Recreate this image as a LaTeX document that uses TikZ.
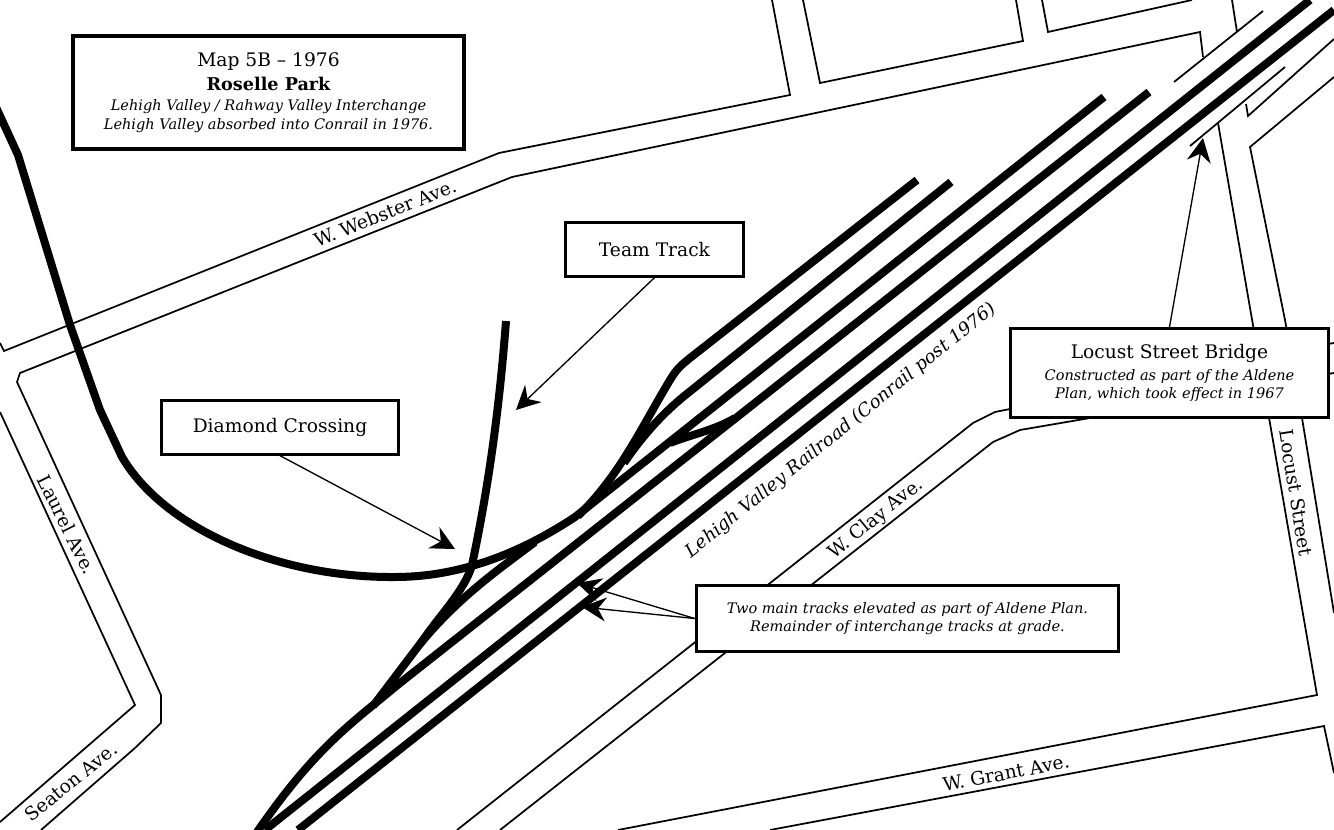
\documentclass[tikz,border=0pt]{standalone}
\usepackage{fontspec}
\setmainfont{DejaVu Serif}
\usetikzlibrary{arrows.meta}
\newcommand{\sm}{\fontsize{10.9}{13}\selectfont\itshape}
\begin{document}
\begin{tikzpicture}[x=0.75pt,y=-0.75pt]
\tikzset{
    street/.style={line width = 1.3pt, color=black, line join=miter},
    track/.style={line width = 6pt, color=black, line join=round},
    note/.style={draw, fill=white, line width = 2.2pt, align=center, inner sep=0pt, font=\fontsize{14}{17}\selectfont},
    place/.style={font=\fontsize{14}{17}\selectfont},
    pointer/.style={line width = 1pt, -{Stealth[length=18pt,width=18pt,inset=6pt]}}}
\useasboundingbox (0,0) rectangle (1334,830);

% streets
\draw[street] (0,343)--(4,351)--(499,153)--(790,95)--(772,0);
\draw[street] (803,0)--(820,83)--(1023,41)--(1016,0);
\draw[street] (1042,0)--(1048,32)--(1192,0);
\draw[street] (1232,0)--(1237,32);
\draw[street] (161,695)--(161,723)--(135,748)--(41,830);
\draw[street] (161,695)--(17,382)--(20,373)--(512,177)--(1200,32)--(1203,57);
\draw[street] (0,412)--(135,705)--(0,822);
\draw[street] (1174,82)--(1263,11);
\draw[street] (1190,146)--(1285,67);
\draw[street] (1246,104)--(1248,116)--(1334,39);
\draw[street] (1334,77)--(1250,147)--(1285,320)--(1302,418)--(1334,613);
\draw[street] (1218,123)--(1317,695)--(618,830);
\draw[street] (770,830)--(1324,726)--(1334,773);
\draw[street] (457,830)--(973,423)--(995,412)--(1010,409);
\draw[street] (500,830)--(993,442)--(1020,430)--(1090,418);
\draw[street] (1328,344)--(1334,343);
\draw[street] (1328,374)--(1334,373);

% tracks
\draw[track] (298,830)--(1334,10);
\draw[track] (265,830)--(1310,0);
\draw[track] (257,832)..controls (300,770) and (330,740)..(372,706)--(400,683)--(1149,92);
\draw[track] (373,706)--(423,640)..controls (440,615) and (465,590)..(472,565)..controls (490,480) and (500,400)..(506,321);
\draw[track] (-5,105)--(18,155)--(70,325)--(100,410)--(122,457)..controls (165,530) and (280,578)..(395,577)..controls (450,577) and (510,560)..(575,517)--(1104,97);
\draw[track] (420,644)..controls (460,595) and (505,565)..(535,542);
\draw[track] (578,516)..controls (620,475) and (640,430)..(670,380)..controls (676,370) and (680,366)..(690,358)--(917,180);
\draw[track] (624,463)..controls (645,432) and (665,412)..(683,397)--(951,182);
\draw[track] (670,443)..controls (690,435) and (715,430)..(735,418);

% labels on the map
\node[place, rotate=22] (webster) at (385,213) {W. Webster Ave.};
\node[place, rotate=39, font=\fontsize{13.6}{17}\selectfont\itshape] (lehigh) at (841,431) {Lehigh Valley Railroad (Conrail post 1976)};
\node[place, rotate=39] (clay) at (876,519) {W. Clay Ave.};
\node[place, rotate=-63.5] (laurel) at (67,525) {Laurel Ave.};
\node[place, rotate=39] (seaton) at (71,782) {Seaton Ave.};
\node[place, rotate=-81] (locust) at (1296,493) {Locust Street};
\node[place, rotate=11] (grant) at (1006,773) {W. Grant Ave.};

% boxes
\node[note, line width=3pt, minimum width=293pt, minimum height=85pt] (title) at (268.5,92.5) {Map 5B -- 1976\\[1pt]{\fontsize{13.2}{16}\selectfont\bfseries Roselle Park}\\[-2pt]{\sm Lehigh Valley / Rahway Valley Interchange}\\[-2.75pt]{\sm Lehigh Valley absorbed into Conrail in 1976.}};
\node[note, minimum width=133pt, minimum height=40pt] (team) at (654.5,249.5) {Team Track};
\node[note, minimum width=178pt, minimum height=40pt] (diamond) at (280,427.5) {Diamond Crossing};
\node[note, minimum width=239pt, minimum height=67pt] (bridge) at (1169.5,373) {Locust Street Bridge\\[-0.5pt]{\sm Constructed as part of the Aldene}\\[-3.5pt]{\sm Plan, which took effect in 1967}};
\node[note, minimum width=317pt, minimum height=50pt] (mains) at (907.5,618.5) {{\sm Two main tracks elevated as part of Aldene Plan.}\\[-3.5pt]{\sm Remainder of interchange tracks at grade.}};

% pointers
\path (516,410)coordinate(teamtip);
\path (455,549)coordinate(diamondtip);
\path (1203,138)coordinate(bridgetip);
\path (577,583)coordinate(maintipA);
\path (582,607)coordinate(maintipB);
\draw[pointer] (team.south)--(teamtip);
\draw[pointer] (diamond.south)--(diamondtip);
\draw[pointer] (bridge.north)--(bridgetip);
\draw[pointer] (mains.west)--(maintipA);
\draw[pointer] (mains.west)--(maintipB);
\end{tikzpicture}
\end{document}
